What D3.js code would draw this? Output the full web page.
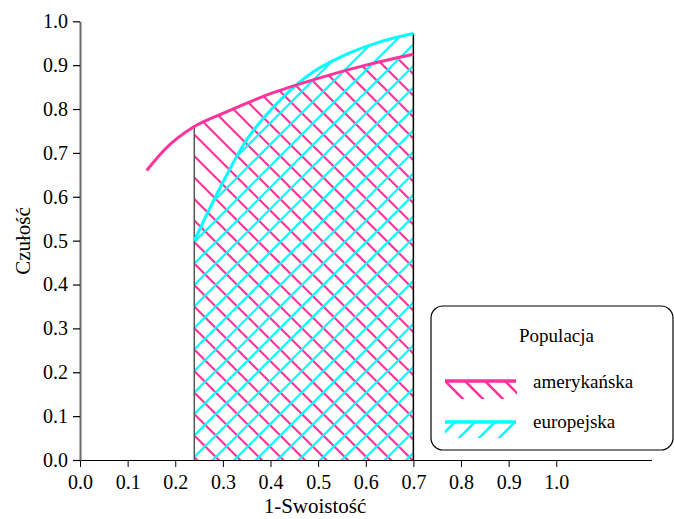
<!DOCTYPE html>
<html><head><meta charset="utf-8">
<script src="https://cdn.jsdelivr.net/npm/d3@7"></script>
<style>body{margin:0;background:#fff}svg{display:block}</style>
</head><body><svg id="c" width="674" height="519" font-family="'Liberation Serif', 'DejaVu Serif', serif"></svg>
<script>
// Data
const xTicks = [0.0,0.1,0.2,0.3,0.4,0.5,0.6,0.7,0.8,0.9,1.0];
const yTicks = [0.0,0.1,0.2,0.3,0.4,0.5,0.6,0.7,0.8,0.9,1.0];
const amerX = [0.14,0.18,0.24,0.30,0.40,0.50,0.60,0.70];
const amerY = [0.66,0.71,0.76,0.79,0.835,0.87,0.90,0.925];
const euroX = [0.24,0.28,0.35,0.42,0.49,0.55,0.63,0.70];
const euroY = [0.50,0.59,0.73,0.82,0.885,0.92,0.953,0.972];
const shadeFrom = 0.24, shadeTo = 0.70;
const seriesNames = ["amerykańska","europejska"];
const colors = ["#ff3399","#00ffff"];
const FONT = "'Liberation Serif', 'DejaVu Serif', serif";

const svg = d3.select("#c");
const x = d3.scaleLinear().domain([0,1.2]).range([80,651.5]);
const y = d3.scaleLinear().domain([0,1]).range([460,21.3]);

const amer = amerX.map((v,i)=>({x:v,y:amerY[i]}));
const euro = euroX.map((v,i)=>({x:v,y:euroY[i]}));
const curve = d3.curveMonotoneX;
const line = d3.line().x(d=>x(d.x)).y(d=>y(d.y)).curve(curve);
const area = d3.area().x(d=>x(d.x)).y0(y(0)).y1(d=>y(d.y)).curve(curve);

const defs = svg.append("defs");
function clip(id, data){
  defs.append("clipPath").attr("id",id).append("path")
    .attr("d", area(data.filter(d=>d.x>=shadeFrom-1e-9 && d.x<=shadeTo+1e-9)));
}
clip("clipA", amer); clip("clipE", euro);

// hatch lines
const step = 21.5, ox = x(shadeFrom), oy = 285;
function hatch(clipId, color, dir){
  const g = svg.append("g").attr("clip-path",`url(#${clipId})`);
  const lines = d3.range(-40,40);
  g.selectAll("line").data(lines).join("line")
    .attr("x1", ox-400).attr("x2", ox+400)
    .attr("y1", k => oy + k*step - dir*400)
    .attr("y2", k => oy + k*step + dir*400)
    .attr("stroke", color).attr("stroke-width", 2.2);
}
hatch("clipA", colors[0], 1);
hatch("clipE", colors[1], -1);

// boundary verticals
svg.append("line").attr("x1",x(shadeFrom)).attr("x2",x(shadeFrom))
  .attr("y1",y(0)).attr("y2",y(amerY[amerX.indexOf(shadeFrom)]))
  .attr("stroke","#555").attr("stroke-width",1.5);
svg.append("line").attr("x1",x(shadeTo)).attr("x2",x(shadeTo))
  .attr("y1",y(0)).attr("y2",y(euroY[euroX.indexOf(shadeTo)]))
  .attr("stroke","#000").attr("stroke-width",1.5);

// curves
svg.append("path").attr("d",line(euro)).attr("fill","none").attr("stroke",colors[1]).attr("stroke-width",3);
svg.append("path").attr("d",line(amer)).attr("fill","none").attr("stroke",colors[0]).attr("stroke-width",3);

// axes
const fmt = d3.format(".1f");
const gx = svg.append("g").attr("transform",`translate(0,${y(0)})`)
  .call(d3.axisBottom(x).tickValues(xTicks).tickFormat(fmt).tickSize(7).tickSizeOuter(0).tickPadding(8));
gx.attr("font-family",FONT).attr("font-size",20);
gx.select(".domain").attr("stroke","#000").attr("stroke-width",1.2);
gx.selectAll("text").attr("font-family",FONT).attr("font-size",20).attr("fill","#000");
gx.selectAll(".tick line").attr("stroke","#000");

const gy = svg.append("g").attr("transform",`translate(${x(0)},0)`)
  .call(d3.axisLeft(y).tickValues(yTicks).tickFormat(fmt).tickSize(7).tickSizeOuter(0).tickPadding(5));
gy.attr("font-family",FONT).attr("font-size",20);
gy.select(".domain").attr("stroke","#6a6a6a").attr("stroke-width",2);
gy.selectAll("text").attr("font-family",FONT).attr("font-size",20).attr("fill","#000");
gy.selectAll(".tick line").attr("stroke","#000").attr("stroke-width",1.2);

// titles
svg.append("text").attr("x",315).attr("y",513).attr("text-anchor","middle")
  .attr("font-family",FONT).attr("font-size",21).text("1-Swoistość");
svg.append("text").attr("transform","translate(30,241) rotate(-90)").attr("text-anchor","middle")
  .attr("font-family",FONT).attr("font-size",21).text("Czułość");

// legend
const lg = svg.append("g").attr("font-family",FONT);
lg.append("rect").attr("x",431).attr("y",306).attr("width",242).attr("height",144).attr("rx",12)
  .attr("fill","#fff").attr("stroke","#000").attr("stroke-width",1.2);
lg.append("text").attr("x",556.5).attr("y",342).attr("text-anchor","middle").attr("font-size",19).text("Populacja");
const items = [{y0:381,y1:399,dir:1,ty:388},{y0:422,y1:438,dir:-1,ty:428}];
items.forEach((it,i)=>{
  const cid = "lgc"+i;
  defs.append("clipPath").attr("id",cid).append("rect")
    .attr("x",445).attr("y",it.y0).attr("width",72).attr("height",it.y1-it.y0);
  const g = lg.append("g").attr("clip-path",`url(#${cid})`);
  g.selectAll("line").data(d3.range(-2,6)).join("line")
    .attr("x1",k=>445+k*20 + (it.dir>0?0:30)).attr("y1",it.y0)
    .attr("x2",k=>445+k*20 + (it.dir>0?30:0)).attr("y2",it.y0+30)
    .attr("stroke",colors[i]).attr("stroke-width",2.5);
  lg.append("line").attr("x1",445).attr("x2",516).attr("y1",it.y0).attr("y2",it.y0)
    .attr("stroke",colors[i]).attr("stroke-width",3.5);
  lg.append("text").attr("x",533).attr("y",it.ty).attr("font-size",19).text(seriesNames[i]);
});
</script></body></html>
